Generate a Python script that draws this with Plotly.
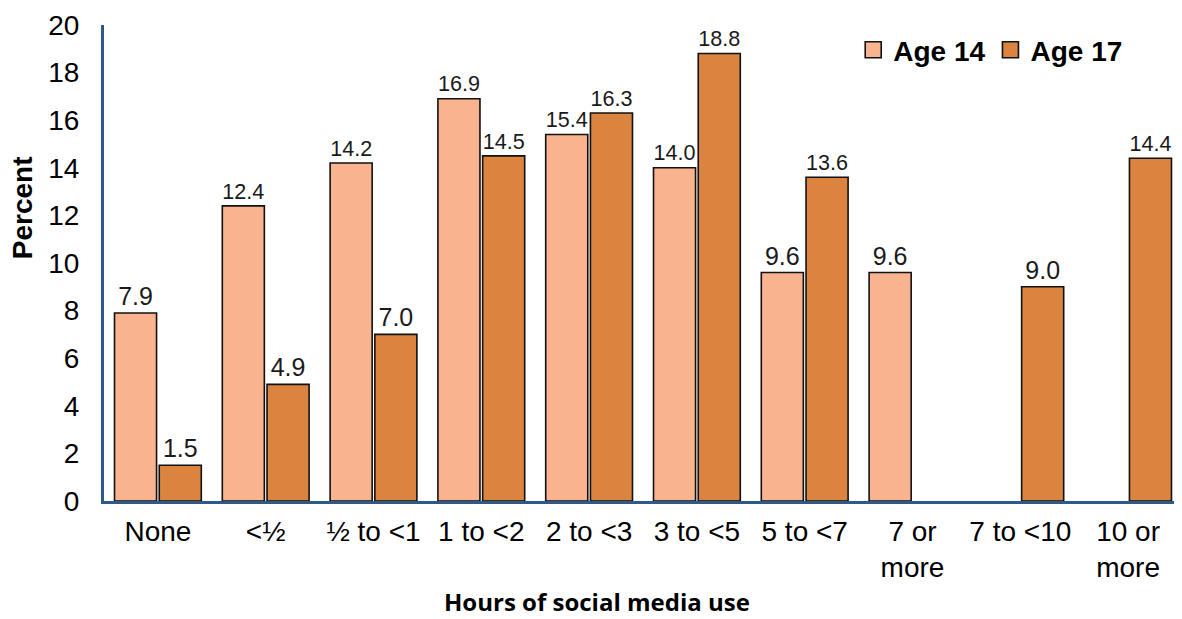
import plotly.graph_objects as go

categories = ["None", "<½", "½ to <1", "1 to <2", "2 to <3", "3 to <5", "5 to <7",
              "7 or<br>more", "7 to <10", "10 or<br>more"]
age14 = [7.9, 12.4, 14.2, 16.9, 15.4, 14.0, 9.6, 9.6, None, None]
age17 = [1.5, 4.9, 7.0, 14.5, 16.3, 18.8, 13.6, None, 9.0, 14.4]
series = [("Age 14", age14, "#F9B48F"), ("Age 17", age17, "#DA843F")]

def labels(vals):
    return [f"{v:.1f}" if v is not None else "" for v in vals]

fig = go.Figure()
for name, vals, color in series:
    fig.add_trace(go.Bar(name=name, x=categories, y=vals, text=labels(vals),
                         textposition="outside", cliponaxis=False, showlegend=False,
                         textfont=dict(size=25, color="#1a1a1a", family="Liberation Sans"),
                         marker=dict(color=color, line=dict(color="#111111", width=1.6))))
# legend entries with larger square swatches
for name, vals, color in series:
    fig.add_trace(go.Scatter(name=name, x=[None], y=[None], mode="markers",
                             marker=dict(symbol="square", size=17, color=color,
                                         line=dict(color="#111111", width=1.6))))

fig.update_layout(
    width=1174, height=611,
    margin=dict(l=96, r=0, t=17, b=118),
    paper_bgcolor="white", plot_bgcolor="white",
    barmode="group", bargap=0.17, bargroupgap=0.06,
    font=dict(family="Liberation Sans", color="black"),
    showlegend=True,
    legend=dict(orientation="h", x=0.695, y=1.0, xanchor="left", yanchor="top",
                font=dict(size=28, family="Liberation Sans", color="black", weight="bold"),
                itemwidth=30, tracegroupgap=0, bgcolor="rgba(0,0,0,0)"),
    annotations=[
        dict(text="<b>Percent</b>", textangle=-90, xref="paper", yref="paper",
             x=0, y=0.615, xanchor="center", yanchor="middle", xshift=-82,
             showarrow=False, font=dict(size=28, family="Liberation Sans", color="black")),
        dict(text="<b>Hours of social media use</b>", xref="paper", yref="paper",
             x=0.457, y=0, xanchor="center", yanchor="middle", yshift=-100, borderpad=0,
             showarrow=False, font=dict(size=24, family="Open Sans", color="black")),
    ],
)
fig.update_yaxes(range=[0, 20], dtick=2, showgrid=False, zeroline=False,
                 showline=True, linecolor="#2D5A8A", linewidth=3,
                 ticks="", ticklabelstandoff=16, automargin=False,
                 tickfont=dict(size=28, family="Liberation Sans"))
fig.update_xaxes(showgrid=False, showline=True, linecolor="#2D5A8A", linewidth=3,
                 ticks="", ticklabelstandoff=3, automargin=False,
                 tickfont=dict(size=28, family="Liberation Sans"))

fig.write_html("out.html")
